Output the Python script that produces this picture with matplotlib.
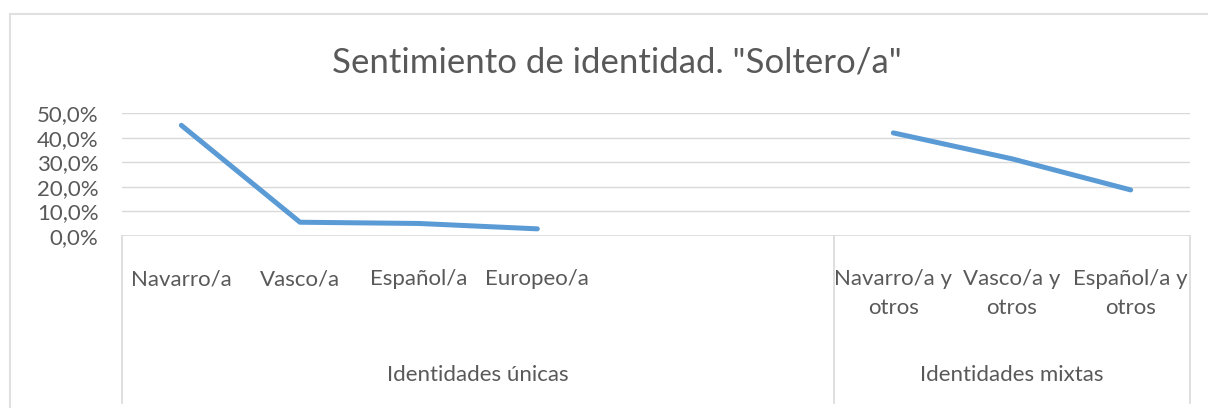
import matplotlib
matplotlib.use("Agg")
import matplotlib.pyplot as plt
import matplotlib.transforms as mtransforms
from matplotlib.patches import Rectangle
import numpy as np

TITLE = 'Sentimiento de identidad. "Soltero/a"'
CATEGORIES = ["Navarro/a", "Vasco/a", "Español/a", "Europeo/a", "", "",
              "Navarro/a y\notros", "Vasco/a y\notros", "Español/a y\notros"]
VALUES = [0.451, 0.055, 0.050, 0.028, np.nan, np.nan, 0.420, 0.314, 0.187]
GROUPS = ["Identidades únicas", "Identidades mixtas"]
GROUP_SIZES = [6, 3]
YTICKS = [0.0, 0.1, 0.2, 0.3, 0.4, 0.5]

TEXT = "#595959"
GRID = "#D9D9D9"
LINE = "#5B9BD5"

plt.rcParams["font.family"] = ["Lato", "DejaVu Sans"]

W, H = 1208, 408
fig = plt.figure(figsize=(W / 100, H / 100), dpi=100)

# outer chart frame (only left and top edges visible)
fig.patches.append(Rectangle((10 / W, -0.1), 1.2, (H - 14) / H + 0.1,
                             transform=fig.transFigure, fill=False,
                             edgecolor="#E0E0E0", linewidth=1.5))

x0, x1 = 122, 1190
y_top, y_bot = 113.3, 235.7
ax = fig.add_axes([x0 / W, 1 - y_bot / H, (x1 - x0) / W, (y_bot - y_top) / H])

n = len(CATEGORIES)
xs = np.arange(n)
ax.set_xlim(-0.5, n - 0.5)
ax.set_ylim(0, 0.5)

for t in YTICKS[1:]:
    ax.axhline(t, color=GRID, linewidth=1.0, zorder=1)
ax.axhline(0, color=GRID, linewidth=1.2, zorder=1)

ax.plot(xs, VALUES, color=LINE, linewidth=3.6, solid_capstyle="round",
        solid_joinstyle="round", zorder=3)

for s in ax.spines.values():
    s.set_visible(False)

ax.set_yticks(YTICKS)
ax.set_yticklabels([f"{t * 100:.1f}%".replace(".", ",") for t in YTICKS])
ax.tick_params(axis="y", length=0, pad=17, labelsize=16, labelcolor=TEXT)

ax.set_xticks(xs)
ax.set_xticklabels(CATEGORIES, linespacing=1.55)
ax.tick_params(axis="x", length=0, pad=24, labelsize=16, labelcolor=TEXT)

# multi-level category axis: separators and group labels
axh = y_bot - y_top
bottom = -(403 - y_bot) / axh
trans = mtransforms.blended_transform_factory(ax.transData, ax.transAxes)
edges = np.concatenate([[0], np.cumsum(GROUP_SIZES)]) - 0.5
for e in edges:
    ax.plot([e, e], [0, bottom], transform=trans, color=GRID, linewidth=1.2,
            clip_on=False)
group_y = -(375 - y_bot) / axh
for i, g in enumerate(GROUPS):
    ax.text((edges[i] + edges[i + 1]) / 2, group_y, g, transform=trans,
            ha="center", va="center", fontsize=16, color=TEXT)

fig.text(617 / W, 1 - 62 / H, TITLE, ha="center", va="center",
         fontsize=25, color=TEXT)

fig.savefig("out.png", dpi=100)
